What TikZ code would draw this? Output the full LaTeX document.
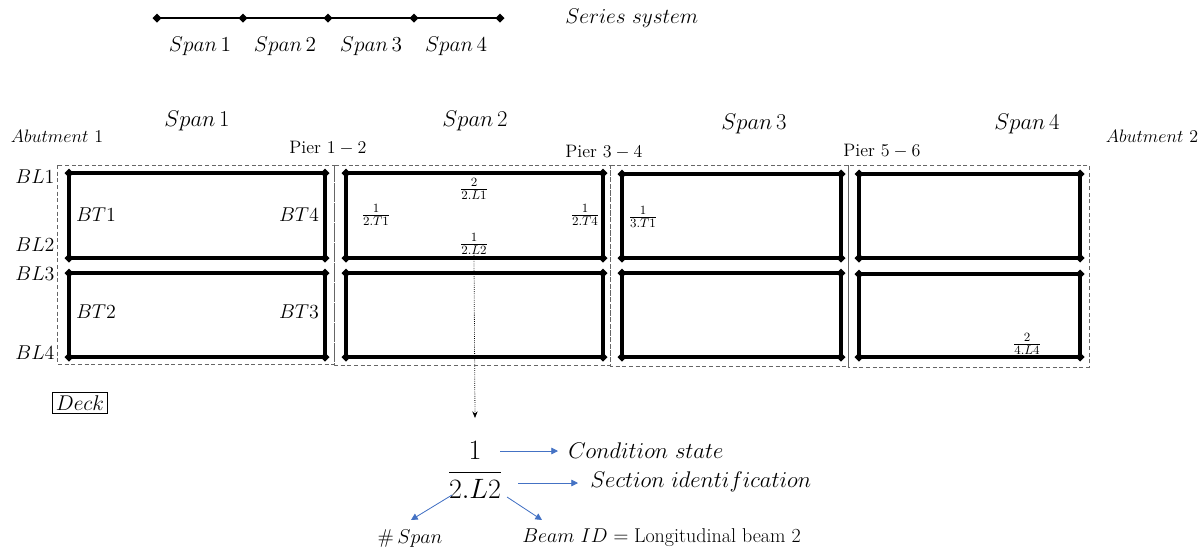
\RequirePackage{fix-cm}
\documentclass[tikz,border=0pt]{standalone}
\usetikzlibrary{arrows.meta,calc}
\definecolor{arrowblue}{HTML}{4472C4}
\tikzset{
  beam/.style={line width=2.3pt},
  zone/.style={draw=black!60, line width=0.6pt, dash pattern=on 3pt off 2pt},
  lbl/.style={inner sep=0pt, font=\fontsize{15}{18}\selectfont},
  serieslbl/.style={inner sep=0pt, font=\fontsize{16}{19}\selectfont},
  title/.style={inner sep=0pt, font=\fontsize{17}{20}\selectfont},
  legend/.style={inner sep=0pt, font=\fontsize{17}{20}\selectfont},
  smalllbl/.style={inner sep=0pt, font=\fontsize{13.5}{16}\selectfont},
  frac/.style={inner sep=0pt, font=\fontsize{13.5}{16}\selectfont},
  hint/.style={draw=arrowblue, line width=0.6pt, -{Triangle[length=5pt,width=5pt]}, fill=arrowblue},
}
% filled diamond joint marker
\newcommand\joint[1]{\fill #1 +(-4.5,0) -- +(0,-4.5) -- +(4.5,0) -- +(0,4.5) -- cycle;}
% beam rectangle with joints at its four corners
\newcommand\panel[4]{%
  \draw[beam] (#1,#2) rectangle (#3,#4);
  \joint{(#1,#2)}\joint{(#3,#2)}\joint{(#1,#4)}\joint{(#3,#4)}}
\begin{document}
\begin{tikzpicture}[x=0.75pt,y=-0.75pt]
\useasboundingbox (0,0) rectangle (1204,551);

% series system
\foreach \i/\x in {0/157,1/243,2/328,3/414,4/500} {\coordinate (s\i) at (\x,18);}
\draw[line width=1.8pt] (s0) -- (s4);
\foreach \i in {0,...,4} {\joint{(s\i)}}
\node[serieslbl, anchor=west] (series) at (565,18) {$Series\ system$};
\node[serieslbl] (ss1) at (200,46) {$Span\,1$};
\node[serieslbl] (ss2) at (285,46) {$Span\,2$};
\node[serieslbl] (ss3) at (371,46) {$Span\,3$};
\node[serieslbl] (ss4) at (456,46) {$Span\,4$};

% span titles
\node[title] (sp1) at (197,121) {$Span\,1$};
\node[title] (sp2) at (475,121) {$Span\,2$};
\node[title] (sp3) at (754,124) {$Span\,3$};
\node[title] (sp4) at (1027,124) {$Span\,4$};
\node[smalllbl] (ab1) at (57,136) {$Abutment\ 1$};
\node[smalllbl] (ab2) at (1152,136) {$Abutment\ 2$};
\node[smalllbl] (p12) at (328,148) {Pier $1-2$};
\node[smalllbl] (p34) at (604,152) {Pier $3-4$};
\node[smalllbl] (p56) at (882,151) {Pier $5-6$};

% span zones
\draw[zone] (57,165) rectangle (334,364);
\draw[zone] (334,165) rectangle (610,365);
\draw[zone] (610,165) rectangle (848,366);
\draw[zone] (848,165) rectangle (1089,367);

% beam panels
\panel{69}{173}{325}{258}
\panel{69}{273}{325}{357}
\panel{346}{173}{603}{258}
\panel{346}{273}{603}{357}
\panel{622}{174}{841}{258}
\panel{622}{273}{841}{357}
\panel{859}{174}{1080}{258}
\panel{859}{274}{1080}{357}

% beam labels
\node[lbl] (bl1) at (35,177) {$BL1$};
\node[lbl] (bl2) at (35,245) {$BL2$};
\node[lbl] (bl3) at (35,274) {$BL3$};
\node[lbl] (bl4) at (35,353) {$BL4$};
\node[lbl] (bt1) at (96,215) {$BT1$};
\node[lbl] (bt4) at (299,215) {$BT4$};
\node[lbl] (bt2) at (96,312) {$BT2$};
\node[lbl] (bt3) at (299,312) {$BT3$};

% condition states
\node[frac] (f2t1) at (376,215) {$\frac{1}{2.T1}$};
\node[frac] (f2l1) at (474,189) {$\frac{2}{2.L1}$};
\node[frac] (f2t4) at (585,215) {$\frac{1}{2.T4}$};
\node[frac] (f2l2) at (474,244) {$\frac{1}{2.L2}$};
\node[frac] (f3t1) at (643,217) {$\frac{1}{3.T1}$};
\node[frac] (f4l4) at (1027,344) {$\frac{2}{4.L4}$};

% deck label
\node[serieslbl, draw, line width=0.5pt, inner sep=2.5pt] (deck) at (80,403) {$Deck$};

% legend
\node[inner sep=0pt, font=\fontsize{21}{25}\selectfont] (big) at (475,470) {$\displaystyle\frac{1}{2.L2}$};
\coordinate (drop) at (475,418);
\draw[densely dotted, line width=0.6pt, -{Stealth[length=5pt,width=4pt]}] (f2l2.south) -- (drop);

\node[legend, anchor=west] (cond) at (568,451) {$Condition\ state$};
\node[legend, anchor=west] (sect) at (590,482) {$Section\ identification$};
\node[lbl] (nspan) at (410,538) {$\#\,Span$};
\node[lbl, anchor=west] (bid) at (522,538) {$Beam\ ID=\mbox{Longitudinal beam 2}$};

\coordinate (c1) at (500,451);
\coordinate (c2) at (518,483);
\coordinate (c3) at (452,495);
\coordinate (c4) at (507,497);
\draw[hint] (c1) -- (558,451);
\draw[hint] (c2) -- (578,483);
\draw[hint] (c3) -- (411,520);
\draw[hint] (c4) -- (542,520);
\end{tikzpicture}
\end{document}
